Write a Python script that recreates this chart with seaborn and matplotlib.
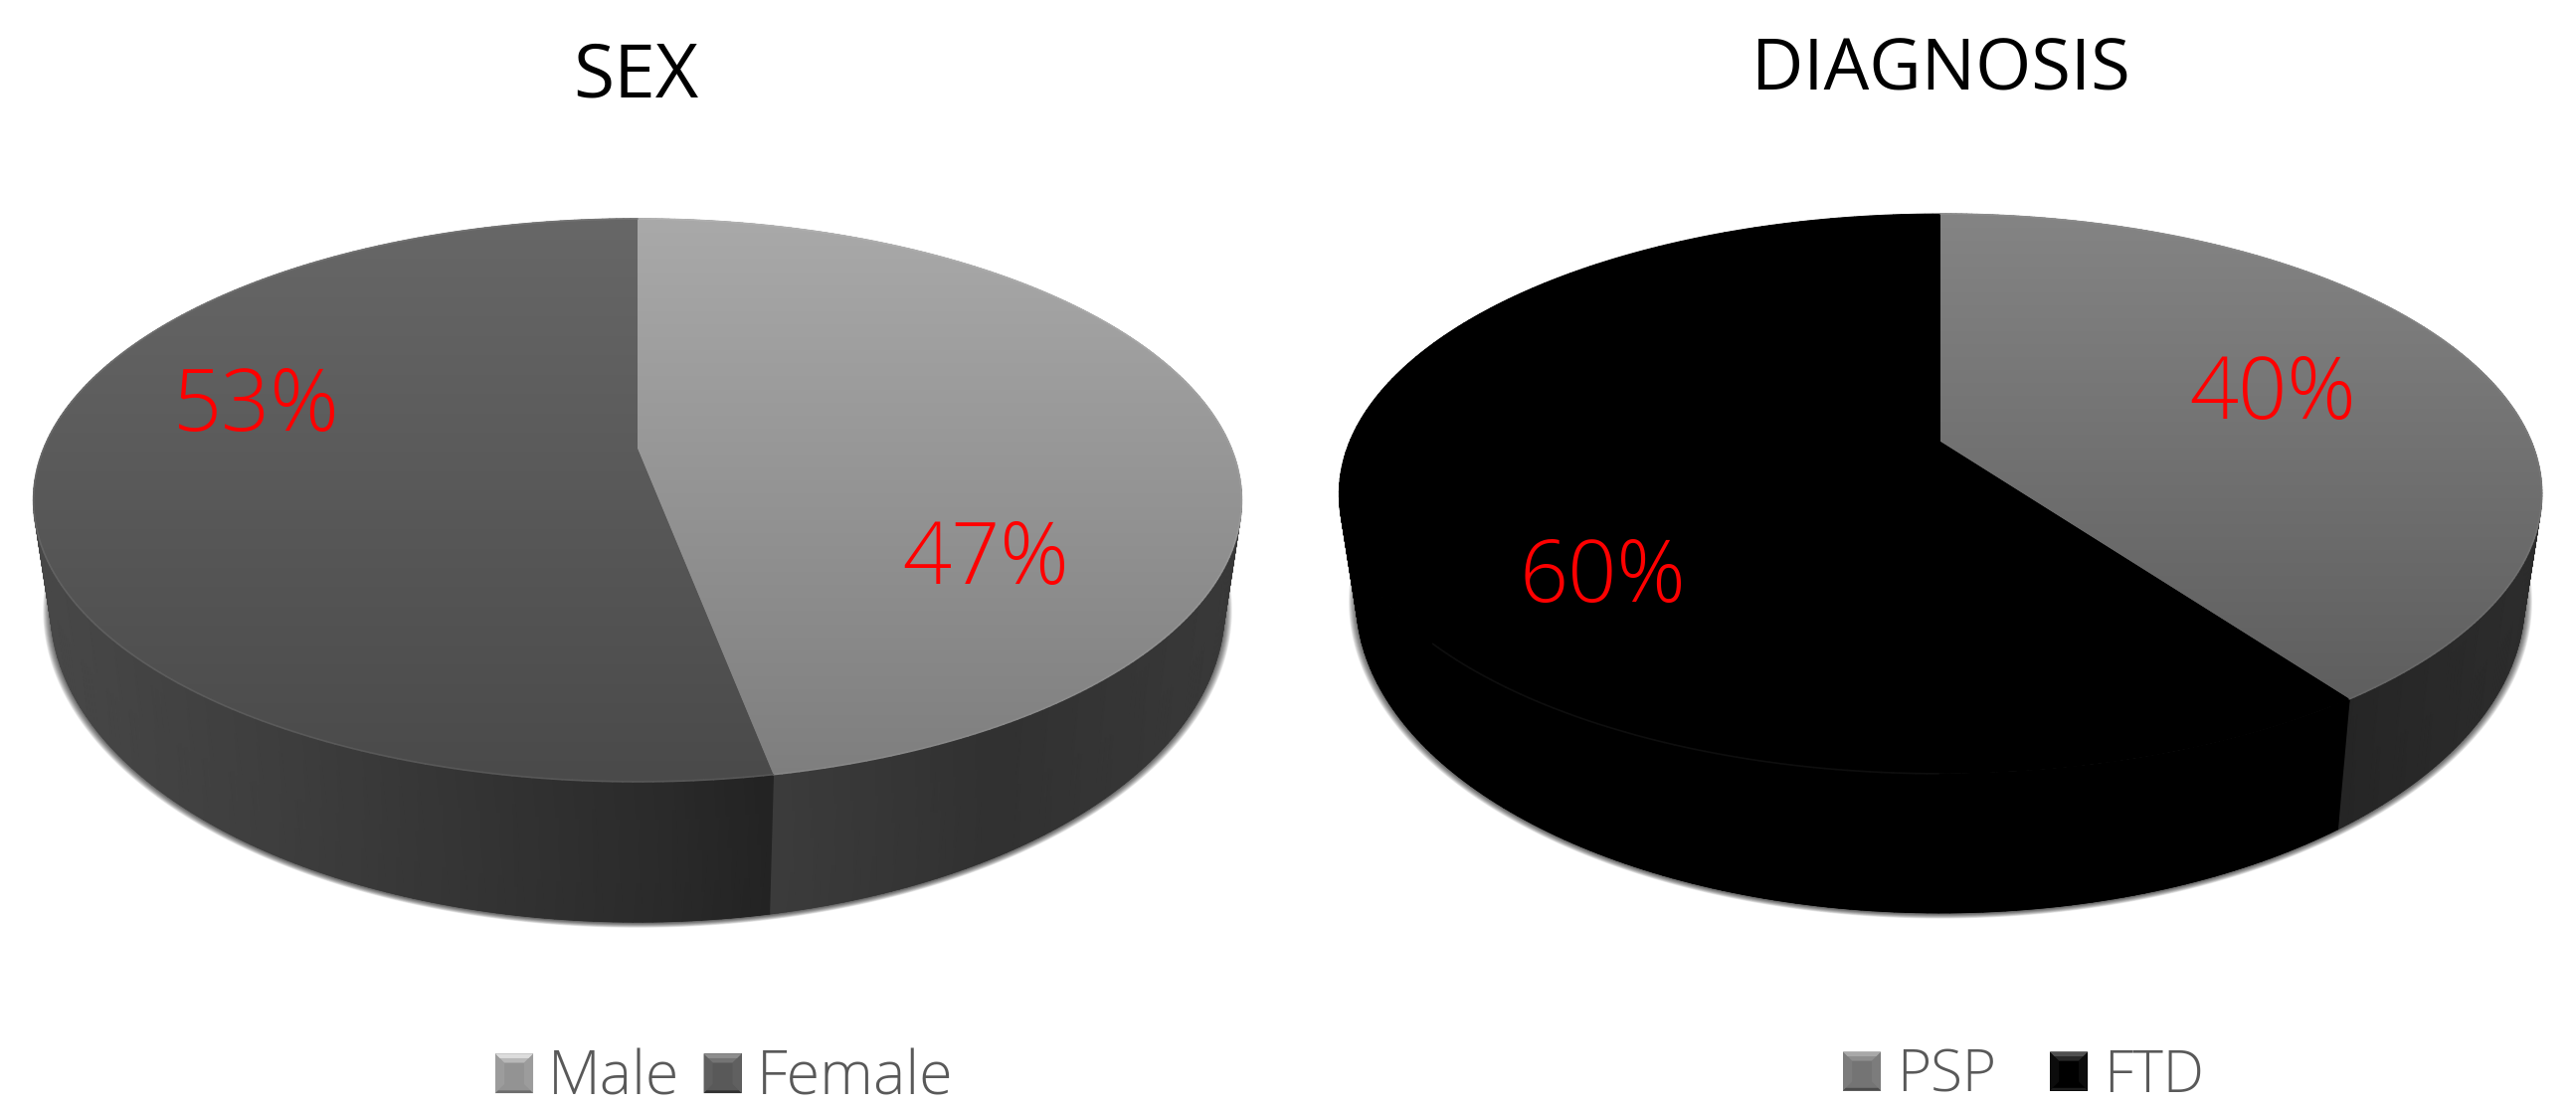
import numpy as np
import matplotlib
matplotlib.use("Agg")
import matplotlib.pyplot as plt
import seaborn as sns
from matplotlib.collections import LineCollection
from matplotlib.patches import Rectangle, Polygon, Wedge
from matplotlib.legend_handler import HandlerBase
from matplotlib.transforms import Transform

# Survey composition values (percent)
sex_labels = ["Male", "Female"]
sex_values = [47, 53]
diagnosis_labels = ["PSP", "FTD"]
diagnosis_values = [40, 60]

sns.set_theme(style="white")
plt.rcParams["font.family"] = ["Open Sans", "DejaVu Sans"]

W, H = 2590, 1112
fig = plt.figure(figsize=(W / 100, H / 100), dpi=100, facecolor="white")
ax = fig.add_axes([0, 0, 1, 1])


class TiltedDisc(Transform):
    """Projective map of the unit disc onto a pixel-space perspective ellipse."""
    input_dims = output_dims = 2
    is_separable = False
    has_inverse = False

    def __init__(self, cx, cy, a, b, k):
        super().__init__()
        self.cx, self.cy, self.a, self.b, self.k = cx, cy, a, b, k

    def transform_non_affine(self, values):
        v = np.asarray(values, dtype=float)
        w = 1 + self.k * v[:, 1]
        return np.column_stack([self.cx + self.a * v[:, 0] / w,
                                self.cy - self.b * v[:, 1] / w])


def ring_points(theta1, theta2, n=240):
    th = np.radians(np.linspace(theta1, theta2, n))
    return np.column_stack([np.cos(th), np.sin(th)])


def shaded_line(points, rgb, lw, zorder):
    segs = np.stack([points[:-1], points[1:]], axis=1)
    lc = LineCollection(segs, colors=rgb[:-1], linewidths=lw, zorder=zorder, capstyle="round")
    ax.add_collection(lc)


def wall(theta1, theta2, top, base, stops, zorder):
    ring = ring_points(theta1, theta2)
    pt, pb = top.transform_non_affine(ring), base.transform_non_affine(ring)
    X = np.vstack([pt[:, 0], pb[:, 0]])
    Y = np.vstack([pt[:, 1], pb[:, 1]])
    C = np.interp(X, stops[0], stops[1])
    ax.pcolormesh(X, Y, C, shading="gouraud", cmap="gray", vmin=0, vmax=255, zorder=zorder)
    v = np.interp(pb[:, 0], stops[0], stops[1]) / 255
    shaded_line(pb, np.column_stack([v, v, v]), 1.0, zorder)


def draw_pie(values, colors_top, colors_wall, top_params, base_params, rim_lift, rim_spans, y_range):
    cx, cy, a, b, k = top_params
    cy_b, a_b, b_b = base_params
    top = TiltedDisc(cx, cy, a, b, k)
    base = TiltedDisc(cx, cy_b, a_b, b_b, k)

    wedges, _ = ax.pie(values, startangle=90, counterclock=False, radius=1,
                       colors=[c[0] for c in colors_top],
                       wedgeprops=dict(linewidth=0))

    # soft contact shadow below the base
    ring = ring_points(0, 360, 720)
    for g in np.linspace(1.013, 1.001, 9):
        sh = TiltedDisc(cx, cy_b + 1, a_b * g, b_b * g, k)
        p = sh.transform_non_affine(ring)
        ax.fill(p[:, 0], p[:, 1], color="black", alpha=0.09, lw=0, zorder=2)

    for wd, stops in zip(wedges, colors_wall):
        wall(wd.theta1, wd.theta2, top, base, stops, zorder=3)

    for wd, cols, lift, span in zip(wedges, colors_top, rim_lift, rim_spans):
        wd.set_transform(top + ax.transData)
        wd.set_zorder(5)
        cmap = sns.blend_palette(list(cols), n_colors=256, as_cmap=True)
        grad = np.linspace(0, 1, 256).reshape(-1, 1)
        im = ax.imshow(grad, cmap=cmap, vmin=0, vmax=1, aspect="auto",
                       extent=(cx - a * 1.1, cx + a * 1.1, y_range[1], y_range[0]),
                       origin="upper", zorder=6, interpolation="bilinear")
        im.set_clip_path(wd)
        # light rim following the outer arc of the slice
        arc = top.transform_non_affine(ring_points(wd.theta1, wd.theta2))
        keep = np.ones(len(arc), dtype=bool) if span is None else (arc[:, 0] >= span[0]) & (arc[:, 0] <= span[1]) & (arc[:, 1] > cy)
        t = np.clip((arc[:, 1] - y_range[0]) / (y_range[1] - y_range[0]), 0, 1)
        rgb = np.clip(cmap(t)[:, :3] + lift, 0, 1)
        shaded_line(arc[keep], rgb[keep], 1.2, zorder=7)
    return wedges


class BevelHandler(HandlerBase):
    """Legend key drawn as a small bevelled square."""

    def __init__(self, shades):
        super().__init__()
        self.shades = shades

    def create_artists(self, legend, orig_handle, xdescent, ydescent, width, height,
                       fontsize, trans):
        face, lit, side, dark = self.shades[orig_handle.get_label()]
        x0, y0, s = -xdescent, -ydescent, width
        d = s * 0.24
        x1, y1 = x0 + s, y0 + height
        soft = tuple((np.array(matplotlib.colors.to_rgb(lit)) + np.array(matplotlib.colors.to_rgb(face))) / 2)
        parts = [
            Rectangle((x0, y0), s, height, fc=face, lw=0),
            Polygon([(x0, y0), (x0 + d, y0 + d), (x0 + d, y1 - d), (x0, y1)], fc=side, lw=0),
            Polygon([(x1, y0), (x1 - d, y0 + d), (x1 - d, y1 - d), (x1, y1)], fc=side, lw=0),
            Polygon([(x0, y1), (x1, y1), (x1 - d, y1 - d), (x0 + d, y1 - d)], fc=soft, lw=0),
            Polygon([(x0, y1), (x1, y1), (x1 - d * .5, y1 - d * .5), (x0 + d * .5, y1 - d * .5)], fc=lit, lw=0),
            Polygon([(x0, y0), (x1, y0), (x1 - d * .3, y0 + d * .3), (x0 + d * .3, y0 + d * .3)], fc=dark, lw=0),
        ]
        for p in parts:
            p.set_transform(trans)
        return parts


# Left pie
sex_wedges = draw_pie(
    sex_values,
    colors_top=[("#a9a9a9", "#7e7e7e"), ("#676767", "#4a4a4a")],
    colors_wall=[((793, 1000, 1240), (0x3b, 0x31, 0x39)),
                 ((35, 300, 660, 793), (0x48, 0x3d, 0x2b, 0x22))],
    top_params=(641, 451, 597, 273.4, 0.1837),
    base_params=(554, 580, 304.4),
    rim_lift=[0.03, 0.05],
    rim_spans=[None, None],
    y_range=(220, 786),
)

# Right pie
diagnosis_wedges = draw_pie(
    diagnosis_values,
    colors_top=[("#848484", "#5e5e5e"), ("#000000", "#000000")],
    colors_wall=[((2340, 2550), (0x25, 0x2d)), ((1340, 2340), (0x00, 0x00))],
    top_params=(1951, 444, 594, 271.6, 0.1865),
    base_params=(544, 577, 304),
    rim_lift=[0.03, 0.055],
    rim_spans=[None, (1437, 1950)],
    y_range=(215, 710),
)

# Titles
ax.text(639, 78, "SEX", ha="center", va="center", fontsize=54, color="black")
ax.text(1951, 72, "DIAGNOSIS", ha="center", va="center", fontsize=52, color="black")

# Percentage labels on the slices
label_font = dict(ha="center", va="center", fontsize=62, color="#ff0000", zorder=10, fontweight="light")
ax.text(991, 564, f"{sex_values[0]}%", **label_font)
ax.text(258, 410, f"{sex_values[1]}%", **label_font)
ax.text(2285, 398, f"{diagnosis_values[0]}%", **label_font)
ax.text(1611, 582, f"{diagnosis_values[1]}%", **label_font)

# Legends
shades = {
    "Male": ("#939393", "#dcdcdc", "#9c9c9c", "#6c6c6c"),
    "Female": ("#595959", "#8e8e8e", "#606060", "#303030"),
    "PSP": ("#747474", "#a8a8a8", "#7c7c7c", "#4c4c4c"),
    "FTD": ("#000000", "#505050", "#0c0c0c", "#1c1c1c"),
}
for wd, name in zip(list(sex_wedges) + list(diagnosis_wedges), sex_labels + diagnosis_labels):
    wd.set_label(name)


def add_legend(wedges, labels, x, y, size, colspace, pad):
    leg = ax.legend(
        wedges, labels, ncol=2, frameon=False, loc="center left",
        bbox_to_anchor=(x, y), bbox_transform=ax.transData,
        labelcolor="#595959", handlelength=27.4 / size, handleheight=27.4 / size,
        handletextpad=pad, columnspacing=colspace, borderpad=0, borderaxespad=0,
        handler_map={Wedge: BevelHandler(shades)},
        prop=dict(size=size, weight="light"),
    )
    leg.set_zorder(10)
    return leg


ax.add_artist(add_legend(sex_wedges, sex_labels, 498, 1085, 44, 0.39, 0.25))
add_legend(diagnosis_wedges, diagnosis_labels, 1853, 1082, 42, 0.93, 0.27)

ax.set_aspect("auto")
ax.set_xlim(0, W)
ax.set_ylim(H, 0)
ax.axis("off")

fig.savefig("out.png", dpi=100, facecolor="white")
